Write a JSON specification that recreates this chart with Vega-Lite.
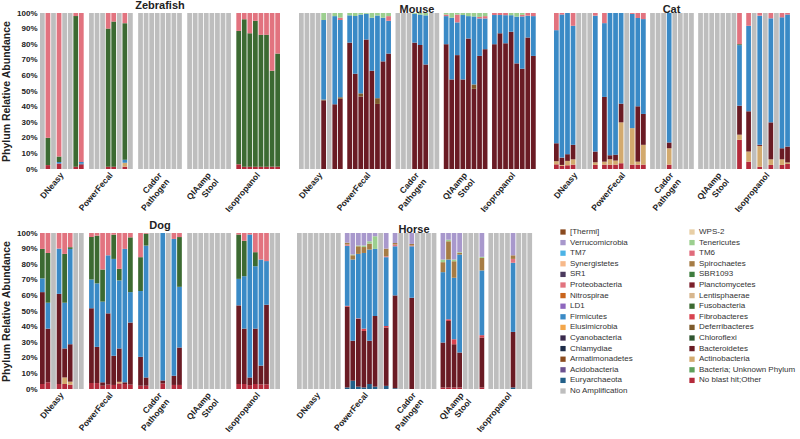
{
"$schema": "https://vega.github.io/schema/vega-lite/v6.json",
"padding": {"left": 1, "top": 0, "right": 2, "bottom": 0},
"background": "white",
"data": {"values": [
{"a":"Zebrafish","m":"DNeasy","s":1,"No Amplification":100},
{"a":"Zebrafish","m":"DNeasy","s":2,"No blast hit;Other":2.5,"Fusobacteria":17.5,"Proteobacteria":80},
{"a":"Zebrafish","m":"DNeasy","s":3,"No Amplification":100},
{"a":"Zebrafish","m":"DNeasy","s":4,"No blast hit;Other":3.5,"Firmicutes":1,"Fusobacteria":3.5,"Proteobacteria":92},
{"a":"Zebrafish","m":"DNeasy","s":5,"No Amplification":100},
{"a":"Zebrafish","m":"DNeasy","s":6,"No Amplification":100},
{"a":"Zebrafish","m":"DNeasy","s":7,"No blast hit;Other":1.5,"Fusobacteria":96.5,"Proteobacteria":2},
{"a":"Zebrafish","m":"DNeasy","s":8,"No blast hit;Other":3,"Euryarchaeota":0.5,"Firmicutes":1,"Proteobacteria":95.5},
{"a":"Zebrafish","m":"PowerFecal","s":1,"No Amplification":100},
{"a":"Zebrafish","m":"PowerFecal","s":2,"No Amplification":100},
{"a":"Zebrafish","m":"PowerFecal","s":3,"No Amplification":100},
{"a":"Zebrafish","m":"PowerFecal","s":4,"No blast hit;Other":1.5,"Fusobacteria":88.5,"Proteobacteria":10},
{"a":"Zebrafish","m":"PowerFecal","s":5,"No blast hit;Other":1.5,"Fusobacteria":93,"Proteobacteria":5.5},
{"a":"Zebrafish","m":"PowerFecal","s":6,"No Amplification":100},
{"a":"Zebrafish","m":"PowerFecal","s":7,"No blast hit;Other":1.5,"Actinobacteria":2.5,"Firmicutes":2,"Fusobacteria":87.5,"Proteobacteria":6.5},
{"a":"Zebrafish","m":"PowerFecal","s":8,"No Amplification":100},
{"a":"Zebrafish","m":"Cador Pathogen","s":1,"No Amplification":100},
{"a":"Zebrafish","m":"Cador Pathogen","s":2,"No Amplification":100},
{"a":"Zebrafish","m":"Cador Pathogen","s":3,"No Amplification":100},
{"a":"Zebrafish","m":"Cador Pathogen","s":4,"No Amplification":100},
{"a":"Zebrafish","m":"Cador Pathogen","s":5,"No Amplification":100},
{"a":"Zebrafish","m":"Cador Pathogen","s":6,"No Amplification":100},
{"a":"Zebrafish","m":"Cador Pathogen","s":7,"No Amplification":100},
{"a":"Zebrafish","m":"Cador Pathogen","s":8,"No Amplification":100},
{"a":"Zebrafish","m":"QIAamp Stool","s":1,"No Amplification":100},
{"a":"Zebrafish","m":"QIAamp Stool","s":2,"No Amplification":100},
{"a":"Zebrafish","m":"QIAamp Stool","s":3,"No Amplification":100},
{"a":"Zebrafish","m":"QIAamp Stool","s":4,"No Amplification":100},
{"a":"Zebrafish","m":"QIAamp Stool","s":5,"No Amplification":100},
{"a":"Zebrafish","m":"QIAamp Stool","s":6,"No Amplification":100},
{"a":"Zebrafish","m":"QIAamp Stool","s":7,"No Amplification":100},
{"a":"Zebrafish","m":"QIAamp Stool","s":8,"No Amplification":100},
{"a":"Zebrafish","m":"Isopropanol","s":1,"No blast hit;Other":3,"Fusobacteria":85.5,"Proteobacteria":11.5},
{"a":"Zebrafish","m":"Isopropanol","s":2,"No blast hit;Other":1.5,"Fusobacteria":94.5,"Proteobacteria":4},
{"a":"Zebrafish","m":"Isopropanol","s":3,"No blast hit;Other":1.5,"Fusobacteria":85.5,"Proteobacteria":13},
{"a":"Zebrafish","m":"Isopropanol","s":4,"No blast hit;Other":1.5,"Fusobacteria":93.5,"Proteobacteria":5},
{"a":"Zebrafish","m":"Isopropanol","s":5,"No blast hit;Other":1.5,"Fusobacteria":84.5,"Proteobacteria":14},
{"a":"Zebrafish","m":"Isopropanol","s":6,"No blast hit;Other":1.5,"Fusobacteria":84.5,"Proteobacteria":14},
{"a":"Zebrafish","m":"Isopropanol","s":7,"No blast hit;Other":1.5,"Fusobacteria":61.5,"Proteobacteria":37},
{"a":"Zebrafish","m":"Isopropanol","s":8,"No blast hit;Other":1.5,"Fusobacteria":72.5,"Proteobacteria":26},

{"a":"Mouse","m":"DNeasy","s":1,"No Amplification":100},
{"a":"Mouse","m":"DNeasy","s":2,"No Amplification":100},
{"a":"Mouse","m":"DNeasy","s":3,"No Amplification":100},
{"a":"Mouse","m":"DNeasy","s":4,"No Amplification":100},
{"a":"Mouse","m":"DNeasy","s":5,"Bacteroidetes":44,"Deferribacteres":0.5,"Firmicutes":51,"Tenericutes":4.5},
{"a":"Mouse","m":"DNeasy","s":6,"No Amplification":100},
{"a":"Mouse","m":"DNeasy","s":7,"Bacteroidetes":41.5,"Firmicutes":56.5,"Tenericutes":2},
{"a":"Mouse","m":"DNeasy","s":8,"Bacteroidetes":45,"Deferribacteres":1,"Firmicutes":49.5,"Proteobacteria":1.5,"Tenericutes":3},
{"a":"Mouse","m":"PowerFecal","s":1,"Bacteroidetes":81,"Firmicutes":17.5,"Tenericutes":1.5},
{"a":"Mouse","m":"PowerFecal","s":2,"Bacteroidetes":61,"Firmicutes":37,"Tenericutes":2},
{"a":"Mouse","m":"PowerFecal","s":3,"Bacteroidetes":46.5,"Deferribacteres":2,"Firmicutes":50.5,"Tenericutes":1},
{"a":"Mouse","m":"PowerFecal","s":4,"Bacteroidetes":83,"Firmicutes":16.5,"Tenericutes":0.5},
{"a":"Mouse","m":"PowerFecal","s":5,"Bacteroidetes":63,"Firmicutes":34,"Tenericutes":3},
{"a":"Mouse","m":"PowerFecal","s":6,"Bacteroidetes":41.7,"Deferribacteres":3.7,"Firmicutes":53,"Tenericutes":1.6},
{"a":"Mouse","m":"PowerFecal","s":7,"Bacteroidetes":69,"Firmicutes":28,"Tenericutes":3},
{"a":"Mouse","m":"PowerFecal","s":8,"Bacteroidetes":74,"Firmicutes":21,"Proteobacteria":3,"Tenericutes":2},
{"a":"Mouse","m":"Cador Pathogen","s":1,"No Amplification":100},
{"a":"Mouse","m":"Cador Pathogen","s":2,"No Amplification":100},
{"a":"Mouse","m":"Cador Pathogen","s":3,"No Amplification":100},
{"a":"Mouse","m":"Cador Pathogen","s":4,"Bacteroidetes":81,"Firmicutes":18.5,"Tenericutes":0.5},
{"a":"Mouse","m":"Cador Pathogen","s":5,"Bacteroidetes":79.5,"Firmicutes":19.5,"Tenericutes":1},
{"a":"Mouse","m":"Cador Pathogen","s":6,"Bacteroidetes":67,"Firmicutes":31.5,"Tenericutes":1.5},
{"a":"Mouse","m":"Cador Pathogen","s":7,"No Amplification":100},
{"a":"Mouse","m":"Cador Pathogen","s":8,"No Amplification":100},
{"a":"Mouse","m":"QIAamp Stool","s":1,"Bacteroidetes":80,"Firmicutes":18,"Proteobacteria":1,"Tenericutes":1},
{"a":"Mouse","m":"QIAamp Stool","s":2,"Bacteroidetes":57.4,"Firmicutes":39.6,"Tenericutes":3},
{"a":"Mouse","m":"QIAamp Stool","s":3,"Bacteroidetes":73,"Firmicutes":21,"Proteobacteria":5,"Tenericutes":1},
{"a":"Mouse","m":"QIAamp Stool","s":4,"Bacteroidetes":57.4,"Firmicutes":41.3,"Tenericutes":1.3},
{"a":"Mouse","m":"QIAamp Stool","s":5,"Bacteroidetes":83.7,"Firmicutes":14.3,"Tenericutes":2},
{"a":"Mouse","m":"QIAamp Stool","s":6,"Bacteroidetes":51.4,"Deferribacteres":2.8,"Firmicutes":43.6,"Tenericutes":2.2},
{"a":"Mouse","m":"QIAamp Stool","s":7,"Bacteroidetes":72.5,"Firmicutes":24,"Proteobacteria":1,"Tenericutes":2.5},
{"a":"Mouse","m":"QIAamp Stool","s":8,"Bacteroidetes":76.8,"Firmicutes":19.7,"Proteobacteria":1.5,"Tenericutes":2},
{"a":"Mouse","m":"Isopropanol","s":1,"Bacteroidetes":80,"Firmicutes":18.7,"Proteobacteria":1.3},
{"a":"Mouse","m":"Isopropanol","s":2,"Bacteroidetes":87,"Firmicutes":11.7,"Proteobacteria":1.3},
{"a":"Mouse","m":"Isopropanol","s":3,"Bacteroidetes":80.6,"Firmicutes":18,"Proteobacteria":1.4},
{"a":"Mouse","m":"Isopropanol","s":4,"Bacteroidetes":88,"Firmicutes":10.6,"Tenericutes":1.4},
{"a":"Mouse","m":"Isopropanol","s":5,"Bacteroidetes":67.7,"Firmicutes":30,"Tenericutes":2.3},
{"a":"Mouse","m":"Isopropanol","s":6,"Bacteroidetes":64.3,"Firmicutes":33.5,"Proteobacteria":1,"Tenericutes":1.2},
{"a":"Mouse","m":"Isopropanol","s":7,"Bacteroidetes":84.3,"Firmicutes":14,"Proteobacteria":1.7},
{"a":"Mouse","m":"Isopropanol","s":8,"Bacteroidetes":72.5,"Firmicutes":25.5,"Proteobacteria":2},

{"a":"Cat","m":"DNeasy","s":1,"No blast hit;Other":3,"Actinobacteria":2,"Bacteroidetes":11.5,"Firmicutes":72.5,"Proteobacteria":11},
{"a":"Cat","m":"DNeasy","s":2,"No blast hit;Other":2,"Actinobacteria":0.6,"Bacteroidetes":4.7,"Firmicutes":91.7,"Proteobacteria":1},
{"a":"Cat","m":"DNeasy","s":3,"No blast hit;Other":2.4,"Actinobacteria":2.8,"Bacteroidetes":4.3,"Firmicutes":90.5},
{"a":"Cat","m":"DNeasy","s":4,"No blast hit;Other":2.8,"Actinobacteria":3.4,"Bacteroidetes":9.3,"Firmicutes":76.3,"Proteobacteria":8.2},
{"a":"Cat","m":"DNeasy","s":5,"No Amplification":100},
{"a":"Cat","m":"DNeasy","s":6,"No Amplification":100},
{"a":"Cat","m":"DNeasy","s":7,"No Amplification":100},
{"a":"Cat","m":"DNeasy","s":8,"No blast hit;Other":2.6,"Actinobacteria":1.7,"Bacteroidetes":6.9,"Firmicutes":87.1,"Proteobacteria":1.7},
{"a":"Cat","m":"PowerFecal","s":1,"No blast hit;Other":2.8,"Actinobacteria":1.9,"Bacteroidetes":41.5,"Firmicutes":47.3,"Proteobacteria":6.5},
{"a":"Cat","m":"PowerFecal","s":2,"No blast hit;Other":2.8,"Actinobacteria":3.4,"Bacteroidetes":2.6,"Firmicutes":91.2},
{"a":"Cat","m":"PowerFecal","s":3,"No blast hit;Other":2.8,"Actinobacteria":2.6,"Bacteroidetes":3.8,"Firmicutes":90.8},
{"a":"Cat","m":"PowerFecal","s":4,"No blast hit;Other":3.7,"Actinobacteria":26.2,"Bacteroidetes":12,"Firmicutes":58.1},
{"a":"Cat","m":"PowerFecal","s":5,"No Amplification":100},
{"a":"Cat","m":"PowerFecal","s":6,"No blast hit;Other":2.8,"Actinobacteria":23.4,"Firmicutes":73.2,"Proteobacteria":0.6},
{"a":"Cat","m":"PowerFecal","s":7,"No blast hit;Other":2.8,"Actinobacteria":1.9,"Bacteroidetes":35.5,"Firmicutes":56.6,"Proteobacteria":3.2},
{"a":"Cat","m":"PowerFecal","s":8,"No blast hit;Other":2.8,"Actinobacteria":12.7,"Bacteroidetes":19.8,"Firmicutes":60.8,"Proteobacteria":3.9},
{"a":"Cat","m":"Cador Pathogen","s":1,"No Amplification":100},
{"a":"Cat","m":"Cador Pathogen","s":2,"No Amplification":100},
{"a":"Cat","m":"Cador Pathogen","s":3,"No Amplification":100},
{"a":"Cat","m":"Cador Pathogen","s":4,"No blast hit;Other":2.8,"Actinobacteria":10.5,"Bacteroidetes":3.7,"Firmicutes":83},
{"a":"Cat","m":"Cador Pathogen","s":5,"No Amplification":100},
{"a":"Cat","m":"Cador Pathogen","s":6,"No Amplification":100},
{"a":"Cat","m":"Cador Pathogen","s":7,"No Amplification":100},
{"a":"Cat","m":"Cador Pathogen","s":8,"No Amplification":100},
{"a":"Cat","m":"QIAamp Stool","s":1,"No Amplification":100},
{"a":"Cat","m":"QIAamp Stool","s":2,"No Amplification":100},
{"a":"Cat","m":"QIAamp Stool","s":3,"No Amplification":100},
{"a":"Cat","m":"QIAamp Stool","s":4,"No Amplification":100},
{"a":"Cat","m":"QIAamp Stool","s":5,"No Amplification":100},
{"a":"Cat","m":"QIAamp Stool","s":6,"No Amplification":100},
{"a":"Cat","m":"QIAamp Stool","s":7,"No Amplification":100},
{"a":"Cat","m":"QIAamp Stool","s":8,"No blast hit;Other":18.7,"Actinobacteria":3.3,"Bacteroidetes":18.6,"Firmicutes":38.8,"Fusobacteria":0.6,"Proteobacteria":20},
{"a":"Cat","m":"Isopropanol","s":1,"No blast hit;Other":4.7,"Actinobacteria":6.5,"Bacteroidetes":25.8,"Firmicutes":54.8,"Proteobacteria":8.2},
{"a":"Cat","m":"Isopropanol","s":2,"No Amplification":100},
{"a":"Cat","m":"Isopropanol","s":3,"No blast hit;Other":1.5,"Actinobacteria":13.3,"Bacteroidetes":0.7,"Firmicutes":82.8,"Proteobacteria":1.7},
{"a":"Cat","m":"Isopropanol","s":4,"No Amplification":100},
{"a":"Cat","m":"Isopropanol","s":5,"No blast hit;Other":2.6,"Actinobacteria":3.6,"Bacteroidetes":23.7,"Firmicutes":66.7,"Proteobacteria":3.4},
{"a":"Cat","m":"Isopropanol","s":6,"No Amplification":100},
{"a":"Cat","m":"Isopropanol","s":7,"No blast hit;Other":2.6,"Actinobacteria":3.6,"Bacteroidetes":7.1,"Firmicutes":83.9,"Proteobacteria":2.8},
{"a":"Cat","m":"Isopropanol","s":8,"No blast hit;Other":3.2,"Actinobacteria":1,"Bacteroidetes":10.2,"Firmicutes":84.6,"Proteobacteria":1},

{"a":"Dog","m":"DNeasy","s":1,"No blast hit;Other":3.2,"Bacteroidetes":58.9,"Firmicutes":8.8,"Fusobacteria":18.9,"Proteobacteria":10.2},
{"a":"Dog","m":"DNeasy","s":2,"No blast hit;Other":4.3,"Bacteroidetes":34.4,"Firmicutes":16.6,"Fusobacteria":31.9,"Proteobacteria":12.8},
{"a":"Dog","m":"DNeasy","s":3,"No Amplification":100},
{"a":"Dog","m":"DNeasy","s":4,"No blast hit;Other":3.2,"Bacteroidetes":57.8,"Firmicutes":29,"Proteobacteria":10},
{"a":"Dog","m":"DNeasy","s":5,"No blast hit;Other":3.2,"Actinobacteria":4.2,"Bacteroidetes":18.6,"Firmicutes":29.3,"Fusobacteria":31.3,"Proteobacteria":13.4},
{"a":"Dog","m":"DNeasy","s":6,"No blast hit;Other":2.8,"Actinobacteria":1.9,"Bacteroidetes":24,"Firmicutes":61.1,"Fusobacteria":1.1,"Proteobacteria":9.1},
{"a":"Dog","m":"DNeasy","s":7,"No Amplification":100},
{"a":"Dog","m":"DNeasy","s":8,"No Amplification":100},
{"a":"Dog","m":"PowerFecal","s":1,"No blast hit;Other":3.8,"Bacteroidetes":47.9,"Firmicutes":18.5,"Fusobacteria":27.2,"Proteobacteria":2.6},
{"a":"Dog","m":"PowerFecal","s":2,"No blast hit;Other":3.8,"Bacteroidetes":23.2,"Firmicutes":40.7,"Fusobacteria":30.6,"Proteobacteria":1.7},
{"a":"Dog","m":"PowerFecal","s":3,"No blast hit;Other":2.1,"Bacteroidetes":2.2,"Firmicutes":51.7,"Fusobacteria":20.6,"Proteobacteria":23.4},
{"a":"Dog","m":"PowerFecal","s":4,"No blast hit;Other":2.8,"Bacteroidetes":45.7,"Firmicutes":37.2,"Proteobacteria":14.3},
{"a":"Dog","m":"PowerFecal","s":5,"No blast hit;Other":2.6,"Bacteroidetes":18.7,"Firmicutes":62.1,"Fusobacteria":15.5,"Proteobacteria":1.1},
{"a":"Dog","m":"PowerFecal","s":6,"No blast hit;Other":3.6,"Actinobacteria":1,"Bacteroidetes":21.4,"Firmicutes":43.6,"Fusobacteria":7.4,"Proteobacteria":23},
{"a":"Dog","m":"PowerFecal","s":7,"No blast hit;Other":3.2,"Bacteroidetes":1.1,"Firmicutes":85.5,"Proteobacteria":10.2},
{"a":"Dog","m":"PowerFecal","s":8,"No blast hit;Other":2.8,"Bacteroidetes":39.8,"Firmicutes":19.5,"Fusobacteria":35.1,"Proteobacteria":2.8},
{"a":"Dog","m":"Cador Pathogen","s":1,"No blast hit;Other":2.1,"Bacteroidetes":18.5,"Firmicutes":42.2,"Fusobacteria":21.7,"Proteobacteria":15.5},
{"a":"Dog","m":"Cador Pathogen","s":2,"No blast hit;Other":2.1,"Bacteroidetes":5.3,"Firmicutes":84.5,"Fusobacteria":7.7,"Proteobacteria":0.4},
{"a":"Dog","m":"Cador Pathogen","s":3,"No Amplification":100},
{"a":"Dog","m":"Cador Pathogen","s":4,"No Amplification":100},
{"a":"Dog","m":"Cador Pathogen","s":5,"No blast hit;Other":3.5,"Bacteroidetes":2,"Firmicutes":94.5},
{"a":"Dog","m":"Cador Pathogen","s":6,"No Amplification":100},
{"a":"Dog","m":"Cador Pathogen","s":7,"No blast hit;Other":2.6,"Bacteroidetes":5.9,"Firmicutes":87.7,"Proteobacteria":3.8},
{"a":"Dog","m":"Cador Pathogen","s":8,"No blast hit;Other":2.6,"Bacteroidetes":24,"Firmicutes":38.9,"Fusobacteria":31.9,"Proteobacteria":2.6},
{"a":"Dog","m":"QIAamp Stool","s":1,"No Amplification":100},
{"a":"Dog","m":"QIAamp Stool","s":2,"No Amplification":100},
{"a":"Dog","m":"QIAamp Stool","s":3,"No Amplification":100},
{"a":"Dog","m":"QIAamp Stool","s":4,"No Amplification":100},
{"a":"Dog","m":"QIAamp Stool","s":5,"No Amplification":100},
{"a":"Dog","m":"QIAamp Stool","s":6,"No Amplification":100},
{"a":"Dog","m":"QIAamp Stool","s":7,"No Amplification":100},
{"a":"Dog","m":"QIAamp Stool","s":8,"No Amplification":100},
{"a":"Dog","m":"Isopropanol","s":1,"No blast hit;Other":3.2,"Bacteroidetes":50.4,"Firmicutes":17,"Fusobacteria":28.4,"Proteobacteria":1},
{"a":"Dog","m":"Isopropanol","s":2,"No blast hit;Other":3.2,"Bacteroidetes":35.5,"Firmicutes":33.6,"Fusobacteria":22.7,"Proteobacteria":5},
{"a":"Dog","m":"Isopropanol","s":3,"No blast hit;Other":2.5,"Bacteroidetes":4.9,"Firmicutes":91.6,"Proteobacteria":1},
{"a":"Dog","m":"Isopropanol","s":4,"No blast hit;Other":3.2,"Bacteroidetes":35.5,"Firmicutes":40,"Fusobacteria":9,"Proteobacteria":12.3},
{"a":"Dog","m":"Isopropanol","s":5,"No blast hit;Other":3,"Bacteroidetes":12,"Firmicutes":68,"Proteobacteria":17},
{"a":"Dog","m":"Isopropanol","s":6,"No blast hit;Other":3,"Bacteroidetes":51,"Firmicutes":28,"Proteobacteria":18},
{"a":"Dog","m":"Isopropanol","s":7,"No Amplification":100},
{"a":"Dog","m":"Isopropanol","s":8,"No Amplification":100},

{"a":"Horse","m":"DNeasy","s":1,"No Amplification":100},
{"a":"Horse","m":"DNeasy","s":2,"No Amplification":100},
{"a":"Horse","m":"DNeasy","s":3,"No Amplification":100},
{"a":"Horse","m":"DNeasy","s":4,"No Amplification":100},
{"a":"Horse","m":"DNeasy","s":5,"No Amplification":100},
{"a":"Horse","m":"DNeasy","s":6,"No Amplification":100},
{"a":"Horse","m":"DNeasy","s":7,"No Amplification":100},
{"a":"Horse","m":"DNeasy","s":8,"No Amplification":100},
{"a":"Horse","m":"PowerFecal","s":1,"Euryarchaeota":1,"Bacteroidetes":51.8,"Fibrobacteres":0.5,"Firmicutes":38.5,"Proteobacteria":0.8,"Spirochaetes":1.2,"Verrucomicrobia":6.2},
{"a":"Horse","m":"PowerFecal","s":2,"Euryarchaeota":5.3,"Bacteroidetes":25.6,"Firmicutes":52.1,"Spirochaetes":2.7,"Tenericutes":0.5,"Verrucomicrobia":13.8},
{"a":"Horse","m":"PowerFecal","s":3,"Euryarchaeota":1.5,"Bacteroidetes":43.5,"Fibrobacteres":0.3,"Firmicutes":41.3,"Spirochaetes":4.9,"Tenericutes":0.5,"Verrucomicrobia":8},
{"a":"Horse","m":"PowerFecal","s":4,"Euryarchaeota":1,"Bacteroidetes":36.2,"Fibrobacteres":1.5,"Firmicutes":48.5,"Spirochaetes":3.8,"Tenericutes":1,"Verrucomicrobia":8},
{"a":"Horse","m":"PowerFecal","s":5,"Euryarchaeota":3.2,"Bacteroidetes":27.7,"Firmicutes":58.5,"Spirochaetes":3.8,"Tenericutes":1.5,"Verrucomicrobia":5.3},
{"a":"Horse","m":"PowerFecal","s":6,"Euryarchaeota":1.5,"Bacteroidetes":45.3,"Firmicutes":43,"Tenericutes":8.1,"Verrucomicrobia":2.1},
{"a":"Horse","m":"PowerFecal","s":7,"No Amplification":100},
{"a":"Horse","m":"PowerFecal","s":8,"Euryarchaeota":2,"Bacteroidetes":37.4,"Fibrobacteres":1,"Firmicutes":44.1,"Proteobacteria":0.6,"Spirochaetes":4.9,"Verrucomicrobia":10},
{"a":"Horse","m":"Cador Pathogen","s":1,"Euryarchaeota":0.5,"Bacteroidetes":59.5,"Firmicutes":31.5,"Proteobacteria":1.1,"Spirochaetes":1,"Verrucomicrobia":6.4},
{"a":"Horse","m":"Cador Pathogen","s":2,"No Amplification":100},
{"a":"Horse","m":"Cador Pathogen","s":3,"No Amplification":100},
{"a":"Horse","m":"Cador Pathogen","s":4,"Bacteroidetes":58.5,"Firmicutes":33,"Proteobacteria":0.5,"Spirochaetes":1,"Verrucomicrobia":7},
{"a":"Horse","m":"Cador Pathogen","s":5,"No Amplification":100},
{"a":"Horse","m":"Cador Pathogen","s":6,"No Amplification":100},
{"a":"Horse","m":"Cador Pathogen","s":7,"No Amplification":100},
{"a":"Horse","m":"Cador Pathogen","s":8,"No Amplification":100},
{"a":"Horse","m":"QIAamp Stool","s":1,"No blast hit;Other":1,"Bacteroidetes":28.8,"Firmicutes":45.1,"Spirochaetes":6.4,"Tenericutes":1.7,"Verrucomicrobia":17},
{"a":"Horse","m":"QIAamp Stool","s":2,"No blast hit;Other":1,"Bacteroidetes":42.6,"Fibrobacteres":1.1,"Firmicutes":38.3,"Spirochaetes":11.7,"Tenericutes":1,"Verrucomicrobia":4.3},
{"a":"Horse","m":"QIAamp Stool","s":3,"No blast hit;Other":1,"Bacteroidetes":27.7,"Fibrobacteres":3.2,"Firmicutes":39.4,"Spirochaetes":10.6,"Tenericutes":1.1,"Verrucomicrobia":17},
{"a":"Horse","m":"QIAamp Stool","s":4,"No blast hit;Other":1,"Bacteroidetes":22.4,"Firmicutes":62.8,"Spirochaetes":1,"Tenericutes":0.5,"Verrucomicrobia":12.3},
{"a":"Horse","m":"QIAamp Stool","s":5,"No Amplification":100},
{"a":"Horse","m":"QIAamp Stool","s":6,"No Amplification":100},
{"a":"Horse","m":"QIAamp Stool","s":7,"No Amplification":100},
{"a":"Horse","m":"QIAamp Stool","s":8,"No blast hit;Other":1,"Bacteroidetes":32,"Fibrobacteres":1.5,"Firmicutes":41.5,"Spirochaetes":8,"Tenericutes":0.7,"Verrucomicrobia":15.3},
{"a":"Horse","m":"Isopropanol","s":1,"No Amplification":100},
{"a":"Horse","m":"Isopropanol","s":2,"No Amplification":100},
{"a":"Horse","m":"Isopropanol","s":3,"No Amplification":100},
{"a":"Horse","m":"Isopropanol","s":4,"No Amplification":100},
{"a":"Horse","m":"Isopropanol","s":5,"Euryarchaeota":1,"Bacteroidetes":35.6,"Firmicutes":44.3,"Proteobacteria":2.5,"Spirochaetes":2.3,"Verrucomicrobia":14.3},
{"a":"Horse","m":"Isopropanol","s":6,"No Amplification":100},
{"a":"Horse","m":"Isopropanol","s":7,"No Amplification":100},
{"a":"Horse","m":"Isopropanol","s":8,"No Amplification":100}
]},
"transform": [
  {"fold": ["No Amplification","No blast hit;Other","Euryarchaeota","Actinobacteria","Bacteroidetes","Deferribacteres","Fibrobacteres","Firmicutes","Fusobacteria","Proteobacteria","Spirochaetes","Tenericutes","Verrucomicrobia"], "as": ["phylum","value"]},
  {"filter": "isValid(datum.value) && datum.value > 0"},
  {"calculate": "indexof(['No Amplification','No blast hit;Other','Euryarchaeota','Actinobacteria','Bacteroidetes','Deferribacteres','Fibrobacteres','Firmicutes','Fusobacteria','Proteobacteria','Spirochaetes','Tenericutes','Verrucomicrobia'], datum.phylum)", "as": "o"}
],
"vconcat": [
  {"hconcat": [
    {"title": "Zebrafish", "width": 240, "height": 156,
     "transform": [{"filter": "datum.a === 'Zebrafish'"}],
     "mark": {"type": "bar"},
     "encoding": {
       "x": {"field": "m", "type": "nominal", "sort": ["DNeasy","PowerFecal","Cador Pathogen","QIAamp Stool","Isopropanol"], "scale": {"paddingInner": 0.11, "paddingOuter": 0}, "axis": {"title": null, "labelAngle": -50, "labelExpr": "split(datum.label, ' ')"}},
       "xOffset": {"field": "s", "type": "ordinal", "scale": {"paddingInner": 0.15, "paddingOuter": 0}},
       "y": {"field": "value", "type": "quantitative", "stack": "normalize", "axis": {"title": "Phylum Relative Abundance", "values": [0,0.1,0.2,0.3,0.4,0.5,0.6,0.7,0.8,0.9,1], "format": ".0%"}},
       "color": {"field": "phylum", "type": "nominal", "scale": {"domain": ["[Thermi]","Verrucomicrobia","TM7","Synergistetes","SR1","Proteobacteria","Nitrospirae","LD1","Firmicutes","Elusimicrobia","Cyanobacteria","Chlamydiae","Armatimonadetes","Acidobacteria","Euryarchaeota","No Amplification","WPS-2","Tenericutes","TM6","Spirochaetes","SBR1093","Planctomycetes","Lentisphaerae","Fusobacteria","Fibrobacteres","Deferribacteres","Chloroflexi","Bacteroidetes","Actinobacteria","Bacteria; Unknown Phylum","No blast hit;Other"], "range": ["#8a4a1f","#a898cc","#4cb3e6","#f7b98a","#4b3a5e","#e2737f","#c9651d","#8e67be","#3a8ac6","#f3a64a","#3a2b4d","#1e2d49","#8b4c1e","#6c5290","#226089","#bebebe","#e8cfa6","#9ccf8f","#e06b7b","#a67c45","#3e7d3e","#7b1f2a","#d7b68e","#3c6a32","#d8434f","#7d5a2c","#2f5530","#6a1b24","#d3aa6e","#5ea05a","#b42a3b"]}, "legend": {"orient": "none", "legendX": 519, "legendY": 215, "columns": 2, "title": null}},
       "order": {"field": "o", "type": "quantitative"}
     }},
    {"title": "Mouse", "width": 236, "height": 156,
     "transform": [{"filter": "datum.a === 'Mouse'"}],
     "mark": {"type": "bar"},
     "encoding": {
       "x": {"field": "m", "type": "nominal", "sort": ["DNeasy","PowerFecal","Cador Pathogen","QIAamp Stool","Isopropanol"], "scale": {"paddingInner": 0.11, "paddingOuter": 0}, "axis": {"title": null, "labelAngle": -50, "labelExpr": "split(datum.label, ' ')"}},
       "xOffset": {"field": "s", "type": "ordinal", "scale": {"paddingInner": 0.15, "paddingOuter": 0}},
       "y": {"field": "value", "type": "quantitative", "stack": "normalize", "axis": null},
       "color": {"field": "phylum", "type": "nominal", "legend": {"orient": "none", "legendX": 519, "legendY": 215, "columns": 2, "title": null}},
       "order": {"field": "o", "type": "quantitative"}
     }},
    {"title": "Cat", "width": 235, "height": 156,
     "transform": [{"filter": "datum.a === 'Cat'"}],
     "mark": {"type": "bar"},
     "encoding": {
       "x": {"field": "m", "type": "nominal", "sort": ["DNeasy","PowerFecal","Cador Pathogen","QIAamp Stool","Isopropanol"], "scale": {"paddingInner": 0.11, "paddingOuter": 0}, "axis": {"title": null, "labelAngle": -50, "labelExpr": "split(datum.label, ' ')"}},
       "xOffset": {"field": "s", "type": "ordinal", "scale": {"paddingInner": 0.15, "paddingOuter": 0}},
       "y": {"field": "value", "type": "quantitative", "stack": "normalize", "axis": null},
       "color": {"field": "phylum", "type": "nominal", "legend": {"orient": "none", "legendX": 519, "legendY": 215, "columns": 2, "title": null}},
       "order": {"field": "o", "type": "quantitative"}
     }}
  ], "spacing": 15},
  {"hconcat": [
    {"title": "Dog", "width": 240, "height": 156,
     "transform": [{"filter": "datum.a === 'Dog'"}],
     "mark": {"type": "bar"},
     "encoding": {
       "x": {"field": "m", "type": "nominal", "sort": ["DNeasy","PowerFecal","Cador Pathogen","QIAamp Stool","Isopropanol"], "scale": {"paddingInner": 0.11, "paddingOuter": 0}, "axis": {"title": null, "labelAngle": -50, "labelExpr": "split(datum.label, ' ')"}},
       "xOffset": {"field": "s", "type": "ordinal", "scale": {"paddingInner": 0.15, "paddingOuter": 0}},
       "y": {"field": "value", "type": "quantitative", "stack": "normalize", "axis": {"title": "Phylum Relative Abundance", "values": [0,0.1,0.2,0.3,0.4,0.5,0.6,0.7,0.8,0.9,1], "format": ".0%"}},
       "color": {"field": "phylum", "type": "nominal", "legend": {"orient": "none", "legendX": 519, "legendY": 215, "columns": 2, "title": null}},
       "order": {"field": "o", "type": "quantitative"}
     }},
    {"title": "Horse", "width": 234, "height": 156,
     "transform": [{"filter": "datum.a === 'Horse'"}],
     "mark": {"type": "bar"},
     "encoding": {
       "x": {"field": "m", "type": "nominal", "sort": ["DNeasy","PowerFecal","Cador Pathogen","QIAamp Stool","Isopropanol"], "scale": {"paddingInner": 0.11, "paddingOuter": 0}, "axis": {"title": null, "labelAngle": -50, "labelExpr": "split(datum.label, ' ')"}},
       "xOffset": {"field": "s", "type": "ordinal", "scale": {"paddingInner": 0.15, "paddingOuter": 0}},
       "y": {"field": "value", "type": "quantitative", "stack": "normalize", "axis": null},
       "color": {"field": "phylum", "type": "nominal", "legend": {"orient": "none", "legendX": 519, "legendY": 215, "columns": 2, "title": null}},
       "order": {"field": "o", "type": "quantitative"}
     }}
  ], "spacing": 13}
],
"spacing": 6,
"resolve": {"scale": {"color": "shared"}},
"config": {
  "font": "Liberation Sans",
  "view": {"stroke": null},
  "bar": {"strokeWidth": 0},
  "axis": {"domain": false, "ticks": false, "grid": false, "labelFontWeight": "bold", "labelColor": "#222222", "titleFontWeight": "bold", "titleColor": "#222222"},
  "axisY": {"labelFontSize": 8, "labelPadding": 3, "titleFontSize": 10.5, "titlePadding": 5},
  "axisX": {"labelFontSize": 8.5, "labelPadding": 4, "labelLineHeight": 10},
  "title": {"fontSize": 11, "fontWeight": "bold", "offset": -2, "color": "#222222"},
  "legend": {"symbolType": "square", "symbolSize": 28, "symbolStrokeWidth": 0, "symbolLimit": 60, "labelFontSize": 8, "labelColor": "#333333", "rowPadding": 2.6, "columnPadding": 55, "labelLimit": 200, "labelOffset": 3}
}
}
